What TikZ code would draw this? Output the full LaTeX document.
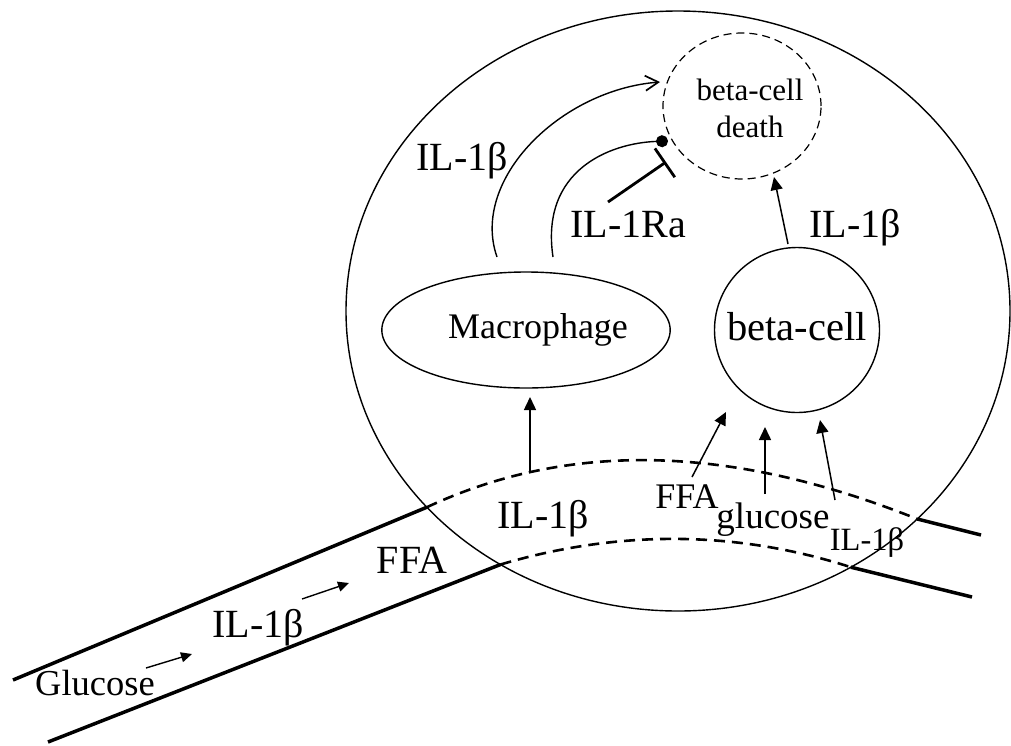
\documentclass[tikz,border=0pt]{standalone}
\usepackage{fontspec}
\setmainfont{Liberation Serif}
\usetikzlibrary{arrows.meta,shapes.geometric}
\begin{document}
\begin{tikzpicture}[x=1pt,y=-1pt,
  txt/.style={inner sep=0pt,anchor=base},
  big/.style={txt,font=\fontsize{40}{44}\selectfont},
  mid/.style={txt,font=\fontsize{37}{40}\selectfont},
  small/.style={txt,font=\fontsize{32}{35}\selectfont},
  tube/.style={line width=3.5pt},
  tubed/.style={line width=2.6pt,dash pattern=on 11pt off 7pt},
  arr/.style={line width=1.5pt,-{Triangle[length=13pt,width=12pt]}},
  tarr/.style={line width=1.4pt,-{Triangle[length=11pt,width=10pt]}},
  thin/.style={line width=1.4pt},
]
\useasboundingbox (0,0) rectangle (1011,745);

% cell (islet)
\node[draw,thin,ellipse,minimum width=664pt,minimum height=600pt,inner sep=0pt,outer sep=0pt] (cell) at (678,311) {};

% death
\node[draw,line width=1.2pt,dash pattern=on 8pt off 5pt,ellipse,minimum width=158pt,minimum height=146pt,inner sep=0pt] (death) at (742,106) {};
\node[small,font=\fontsize{31}{34}\selectfont] (d1) at (750,100) {beta-cell};
\node[small,font=\fontsize{31}{34}\selectfont] (d2) at (750,137) {death};

% macrophage and beta-cell
\node[draw,thin,ellipse,minimum width=224pt,minimum height=116pt,inner sep=0pt,font=\fontsize{36}{38}\selectfont] (mac) at (526,330) {\hspace*{24pt}Macrophage};
\node[draw,thin,circle,minimum size=165pt,inner sep=0pt,text depth=8pt,font=\fontsize{40.5}{42}\selectfont] (beta) at (797,330) {beta-cell};

% vessel crossing points
\coordinate (tl) at (cell.218.7);
\coordinate (bl) at (cell.235.1);
\coordinate (tr) at (cell.319.3);
\coordinate (br) at (cell.304.96);
\coordinate (tl0) at (13,680);
\coordinate (bl0) at (48,742);
\coordinate (tr1) at (981,535);
\coordinate (br1) at (972,597);

\draw[tube] (tl0) -- (tl);
\draw[tube] (bl0) -- (bl);
\draw[tube] (tr) -- (tr1);
\draw[tube] (br) -- (br1);
\draw[tubed] (tl) .. controls (560,445) and (720,440) .. (tr);
\draw[tubed] (bl) .. controls (600,535) and (720,525) .. (br);

% labels
\node[big] (il1) at (462,170) {IL-1β};
\node[big] (ra) at (628,237) {IL-1Ra};
\node[big] (il2) at (855,237) {IL-1β};
\node[big] (il3) at (543,528) {IL-1β};
\node[big] (ffa1) at (412,573) {FFA};
\node[big] (il4) at (258,637) {IL-1β};
\node[mid,font=\fontsize{36.5}{40}\selectfont] (glu) at (95,695) {Glucose};
\node[txt,font=\fontsize{36}{38}\selectfont] (ffa2) at (687,508) {FFA};
\node[mid] (glu2) at (773,528) {glucose};
\node[small,font=\fontsize{32.5}{35}\selectfont] (il5) at (867,550) {IL-1β};

% arrows in vessel
\coordinate (g0) at (146,668); \coordinate (g1) at (192,654);
\coordinate (i0) at (302,599); \coordinate (i1) at (349,583);
\draw[tarr] (g0) -- (g1);
\draw[tarr] (i0) -- (i1);

% arrow to macrophage
\coordinate (m0) at (530,471); \coordinate (m1) at (530,397);
\draw[arr] (m0) -- (m1);

% arrows to beta-cell
\coordinate (a0) at (692,477); \coordinate (a1) at (726,412);
\coordinate (b0) at (765,494); \coordinate (b1) at (765,427);
\coordinate (c0) at (835,500); \coordinate (c1) at (820,420);
\draw[arr] (a0) -- (a1);
\draw[arr] (b0) -- (b1);
\draw[arr] (c0) -- (c1);

% beta-cell to death
\coordinate (e0) at (788,244); \coordinate (e1) at (774,177);
\draw[arr] (e0) -- (e1);

% macrophage IL-1beta curved arrow
\coordinate (p0) at (497,257); \coordinate (p1) at (660,82);
\draw[thin,-{Straight Barb[length=13pt,width=15pt,line width=1.7pt]}] (p0) .. controls (470,180) and (560,90) .. (p1);

% IL-1Ra curve ending in dot
\coordinate (q0) at (553,257); \coordinate (q1) at (668,141);
\draw[thin,-{Circle[length=12pt]}] (q0) .. controls (540,170) and (610,143) .. (q1);

% inhibition
\coordinate (r0) at (608,202); \coordinate (r1) at (666,162);
\draw[line width=2.8pt,-{Bar[width=35pt,line width=2.8pt]}] (r0) -- (r1);
\end{tikzpicture}
\end{document}
